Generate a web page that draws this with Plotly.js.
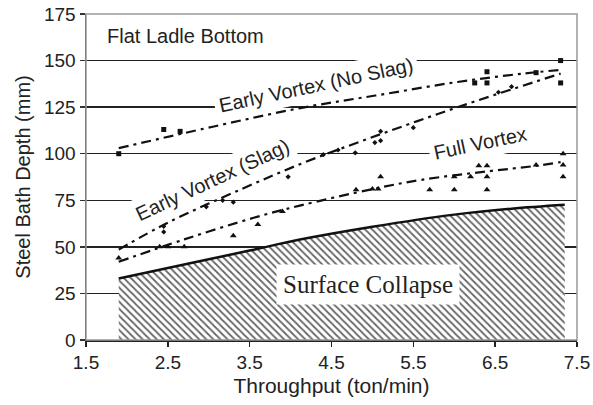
<!DOCTYPE html>
<html>
<head>
<meta charset="utf-8">
<script src="https://cdn.plot.ly/plotly-3.0.1.min.js"></script>
<style>html,body{margin:0;padding:0;background:#fff;}#chart{width:593px;height:405px;}</style>
</head>
<body>
<div id="chart"></div>
<script>
// ---- data ----
// Early Vortex (No Slag): measured points (squares) and trend
const noSlagX = [1.9, 2.45, 2.65, 6.25, 6.4, 6.4, 7.0, 7.3, 7.3];
const noSlagY = [100, 113, 112, 138, 144, 138, 143.5, 150, 138];
const noSlagTrendX = [1.9, 3.05, 4.12, 5.1, 6.04, 6.84, 7.3];
const noSlagTrendY = [103, 114.5, 124.5, 131.7, 138.5, 143, 145];

// Early Vortex (Slag): measured points (small dots) and trend
const slagX = [2.45, 2.45, 2.97, 3.17, 3.3, 3.97, 4.4, 4.58, 4.79, 5.03, 5.1, 5.1, 5.5, 6.54, 6.7];
const slagY = [61, 58, 71.5, 75, 74, 87.6, 99.5, 102, 100.5, 106, 112, 107, 114, 133, 136];
const slagTrendX = [1.9, 2.5, 3.4, 4.15, 4.85, 5.55, 6.28, 7.3];
const slagTrendY = [48.5, 63, 81, 95, 106.5, 117.5, 128.5, 143];

// Full Vortex: measured points (triangles) and trend
const fullX = [1.9, 2.4, 2.5, 2.7, 3.3, 3.6, 3.9, 4.8, 5.0, 5.07, 5.1, 5.7, 6.0, 6.0, 6.2, 6.3, 6.4, 6.4, 6.4, 7.0, 7.33, 7.33, 7.33];
const fullY = [44, 50, 50, 50, 56, 62, 69, 80.6, 81, 81, 87.6, 80.6, 80.6, 87.6, 87.6, 93.5, 93.5, 87.6, 80.6, 94, 100, 94, 87.6];
const fullTrendX = [1.9, 2.7, 3.55, 4.1, 5.0, 5.6, 6.4, 7.0, 7.3];
const fullTrendY = [42, 54, 65.6, 72, 81, 86, 90.5, 93.5, 95.5];

// Surface collapse boundary
const collapseX = [1.9, 2.5, 3.5, 4.1, 5.0, 6.0, 6.7, 7.35];
const collapseY = [33, 38.7, 48, 53.8, 60.8, 67.3, 70.5, 72.6];

// tick values
const xTicks = [1.5, 2.5, 3.5, 4.5, 5.5, 6.5, 7.5];
const yTicks = [0, 25, 50, 75, 100, 125, 150, 175];

const dashStyle = '10px,5px,3px,5px';
const black = '#111';

const traces = [
  {x: collapseX, y: collapseY, type: 'scatter', mode: 'lines', fill: 'tozeroy',
   line: {color: black, width: 2.5, shape: 'spline'},
   fillcolor: 'white',
   fillpattern: {shape: '\\', fgcolor: '#666', bgcolor: 'white', size: 5, solidity: 0.35},
   hoverinfo: 'skip', showlegend: false},
  {x: noSlagTrendX, y: noSlagTrendY, type: 'scatter', mode: 'lines',
   line: {color: black, width: 2.2, dash: dashStyle, shape: 'spline'}, showlegend: false},
  {x: slagTrendX, y: slagTrendY, type: 'scatter', mode: 'lines',
   line: {color: black, width: 2.2, dash: dashStyle, shape: 'spline'}, showlegend: false},
  {x: fullTrendX, y: fullTrendY, type: 'scatter', mode: 'lines',
   line: {color: black, width: 2.2, dash: dashStyle, shape: 'spline'}, showlegend: false},
  {x: noSlagX, y: noSlagY, type: 'scatter', mode: 'markers',
   marker: {symbol: 'square', size: 5, color: black}, showlegend: false},
  {x: slagX, y: slagY, type: 'scatter', mode: 'markers',
   marker: {symbol: 'diamond', size: 4, color: black}, showlegend: false},
  {x: fullX, y: fullY, type: 'scatter', mode: 'markers',
   marker: {symbol: 'triangle-up', size: 6, color: black}, showlegend: false}
];

const sans = 'Liberation Sans, Arial, sans-serif';
const layout = {
  width: 593, height: 405,
  margin: {l: 86, r: 16, t: 14, b: 65},
  paper_bgcolor: 'white', plot_bgcolor: 'white',
  font: {family: sans, size: 19, color: '#222'},
  showlegend: false,
  xaxis: {
    range: [1.5, 7.5], tickvals: xTicks, ticktext: xTicks.map(v => v.toFixed(1)),
    showgrid: false, zeroline: false, showline: true, linecolor: '#222', linewidth: 1.5,
    ticks: 'outside', ticklen: 5, tickwidth: 1.5, tickcolor: '#222',
    tickfont: {family: sans, size: 19, color: '#222'},
    title: {text: 'Throughput (ton/min)', font: {family: sans, size: 21, color: '#222'}, standoff: 6}
  },
  yaxis: {
    range: [0, 175], tickvals: yTicks,
    showgrid: true, gridcolor: '#222', gridwidth: 1.3, zeroline: false,
    showline: true, linecolor: '#333', linewidth: 1.5,
    ticks: 'outside', ticklen: 5, tickwidth: 1.5, tickcolor: '#333',
    tickfont: {family: sans, size: 19, color: '#222'},
    title: {text: 'Steel Bath Depth (mm)', font: {family: sans, size: 20, color: '#222'}, standoff: 8}
  },
  shapes: [
    {type: 'rect', xref: 'paper', yref: 'paper', x0: 0, x1: 1, y0: 0, y1: 1,
     line: {color: '#999', width: 1.5}, layer: 'above'}
  ],
  annotations: [
    {text: 'Flat Ladle Bottom', x: 2.72, y: 163, xref: 'x', yref: 'y', showarrow: false,
     font: {family: sans, size: 20, color: '#222'}},
    {text: 'Early Vortex (No Slag)', x: 4.31, y: 137, xref: 'x', yref: 'y', showarrow: false,
     textangle: -12, bgcolor: 'white', borderpad: 4,
     font: {family: sans, size: 20, color: '#222'}},
    {text: 'Early Vortex (Slag)', x: 3.04, y: 86, xref: 'x', yref: 'y', showarrow: false,
     textangle: -25, bgcolor: 'white', borderpad: 4,
     font: {family: sans, size: 20, color: '#222'}},
    {text: 'Full Vortex', x: 6.32, y: 105.5, xref: 'x', yref: 'y', showarrow: false,
     textangle: -12, bgcolor: 'white', borderpad: 4,
     font: {family: sans, size: 20, color: '#222'}},
    {text: 'Surface Collapse', x: 4.95, y: 30, xref: 'x', yref: 'y', showarrow: false,
     bgcolor: 'white', borderpad: 6,
     font: {family: 'Liberation Serif, Times New Roman, serif', size: 25, color: '#222'}}
  ]
};

Plotly.newPlot('chart', traces, layout, {staticPlot: true, displayModeBar: false});
</script>
</body>
</html>
